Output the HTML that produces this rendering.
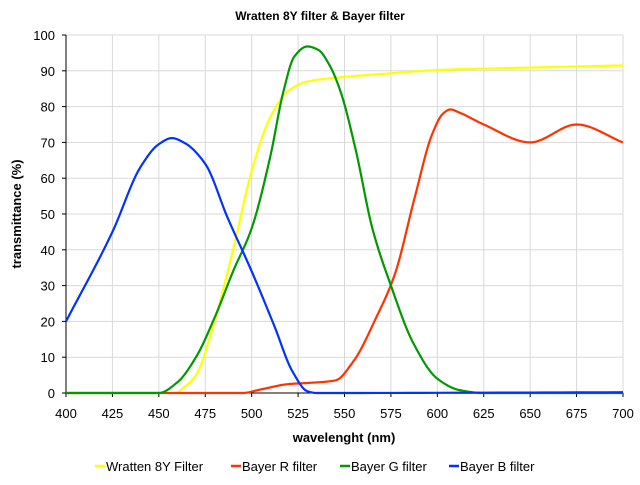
<!DOCTYPE html>
<html><head><meta charset="utf-8"><style>
body{margin:0;background:#fff;}
svg text{font-family:"Liberation Sans",sans-serif;}
</style></head><body>
<svg id="s" width="640" height="480" xmlns="http://www.w3.org/2000/svg">
<rect width="640" height="480" fill="#fff"/>
<text x="320" y="20" text-anchor="middle" font-size="12" font-weight="bold">Wratten 8Y filter &amp; Bayer filter</text>
<g id="grid" stroke="#d9d9d9" stroke-width="1"></g>
<g id="ticks" font-size="13" fill="#000"></g>
<line x1="66" y1="35" x2="66" y2="393" stroke="#000"/>
<line x1="66" y1="393" x2="623" y2="393" stroke="#000"/>
<g id="curves" fill="none" stroke-width="2.2" stroke-linejoin="round"></g>
<text x="344" y="442" text-anchor="middle" font-size="13" font-weight="bold">wavelenght (nm)</text>
<text transform="translate(21,214) rotate(-90)" text-anchor="middle" font-size="13" font-weight="bold">transmittance (%)</text>
<g font-size="13">
<line x1="95" y1="466" x2="105" y2="466" stroke="#ffff00" stroke-width="2.5"/><text x="106" y="471">Wratten 8Y Filter</text>
<line x1="231" y1="466" x2="241" y2="466" stroke="#ff3300" stroke-width="2.5"/><text x="242" y="471">Bayer R filter</text>
<line x1="340" y1="466" x2="350" y2="466" stroke="#009900" stroke-width="2.5"/><text x="351" y="471">Bayer G filter</text>
<line x1="449" y1="466" x2="459" y2="466" stroke="#0033ff" stroke-width="2.5"/><text x="460" y="471">Bayer B filter</text>
</g>
</svg>
<script>
var X=w=>66+(w-400)*557/300, Y=v=>393-v*3.58;
var g=document.getElementById('grid'),t=document.getElementById('ticks'),ns='http://www.w3.org/2000/svg';
function el(p,n,a,txt){var e=document.createElementNS(ns,n);for(var k in a)e.setAttribute(k,a[k]);if(txt!=null)e.textContent=txt;p.appendChild(e);}
for(var v=0;v<=100;v+=10){var y=Y(v);if(v>0)el(g,'line',{x1:66,x2:623,y1:y,y2:y});el(t,'line',{x1:62,x2:66,y1:y,y2:y,stroke:'#000'});el(t,'text',{x:55,y:y+5,'text-anchor':'end'},v);}
for(var w=400;w<=700;w+=25){var x=X(w);if(w>400)el(g,'line',{x1:x,x2:x,y1:35,y2:393});el(t,'line',{x1:x,x2:x,y1:393,y2:397,stroke:'#000'});el(t,'text',{x:x,y:418,'text-anchor':'middle'},w);}
var D={
'#ffff00':[[460,0],[470,5],[480,20],[490,40],[500,62],[510,77],[520,84.5],[530,87],[550,88.3],[575,89.3],[600,90.2],[650,90.9],[700,91.5]],
'#ff3300':[[400,0],[495,0],[505,1],[520,2.5],[530,2.8],[545,3.5],[555,9],[567,21],[577,33],[588,55],[597,72],[603,78],[607,79.2],[612,78.3],[625,75],[650,70],[675,75],[700,70]],
'#009900':[[400,0],[450,0],[460,3],[470,10],[480,21],[490,34],[500,46],[510,66],[517,84],[523,94],[530,96.8],[536,95.8],[542,91.5],[548,84],[556,68],[565,46],[575,30],[587,14],[600,4],[612,0.8],[625,0],[700,0]],
'#0033ff':[[400,20],[425,45],[440,63],[450,69.5],[457,71.2],[464,69.8],[475,64],[487,49],[500,34],[512,19],[522,6],[530,0.5],[535,0],[700,0.2]]};
function mono(P){var n=P.length,dl=[],m=[];
for(var i=0;i<n-1;i++)dl.push((P[i+1][1]-P[i][1])/(P[i+1][0]-P[i][0]));
m[0]=dl[0];m[n-1]=dl[n-2];
for(i=1;i<n-1;i++){if(dl[i-1]*dl[i]<=0)m[i]=0;else{var h0=P[i][0]-P[i-1][0],h1=P[i+1][0]-P[i][0];var w1=2*h1+h0,w2=h1+2*h0;m[i]=(w1+w2)/(w1/dl[i-1]+w2/dl[i]);}}
var out=[];
for(i=0;i<n-1;i++){var x0=P[i][0],x1=P[i+1][0],h=x1-x0,y0=P[i][1],y1=P[i+1][1];
for(var k=0;k<20;k++){var s=k/20,h00=2*s*s*s-3*s*s+1,h10=s*s*s-2*s*s+s,h01=-2*s*s*s+3*s*s,h11=s*s*s-s*s;
out.push([x0+s*h,h00*y0+h10*h*m[i]+h01*y1+h11*h*m[i+1]]);}}
out.push(P[n-1]);return out;}
var c=document.getElementById('curves');
for(var col in D){var p=mono(D[col]);
el(c,'path',{d:'M'+p.map(a=>X(a[0]).toFixed(2)+','+Y(a[1]).toFixed(2)).join(' L'),stroke:col});}
</script>
</body></html>
